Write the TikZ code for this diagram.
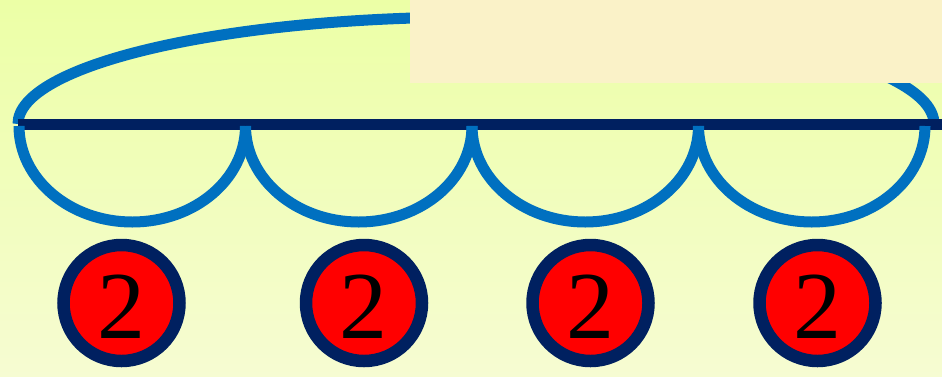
\documentclass[tikz,border=0pt]{standalone}
\usepackage{fontspec}
\setmainfont{Liberation Serif}
\definecolor{bgtop}{HTML}{ECFFA6}
\definecolor{bgbot}{HTML}{F6FCD2}
\definecolor{beige}{HTML}{FAF2C8}
\definecolor{arcblue}{HTML}{0070C0}
\definecolor{navy}{HTML}{002060}
\tikzset{
  arcline/.style={draw=arcblue, line width=11pt, line cap=butt},
  baseline/.style={draw=navy, line width=11pt},
  ball/.style={circle, draw=navy, line width=12.5pt, fill=red, minimum size=116pt, inner sep=0pt},
  digit/.style={anchor=base, inner sep=0pt, font=\fontsize{96}{96}\selectfont, text=black}
}
\begin{document}
\begin{tikzpicture}[x=1pt,y=1pt]
\useasboundingbox (0,0) rectangle (942,-376);
\shade[top color=bgtop, bottom color=bgbot] (0,0) rectangle (942,-376);
% big arc
\coordinate (bigL) at (18,-124);
\draw[arcline] (bigL) arc[start angle=180, end angle=0, x radius=458, y radius=107];
% beige box
\node[fill=beige, inner sep=0pt, anchor=north west, minimum width=532pt, minimum height=83pt] (box) at (410,0) {};
% joints
\coordinate (j0) at (19,-126);
\coordinate (j1) at (245.5,-126);
\coordinate (j2) at (472,-126);
\coordinate (j3) at (698.5,-126);
\coordinate (j4) at (925,-126);
\coordinate (lineL) at (18,-124);
\coordinate (lineR) at (942,-124);
\draw[baseline] (lineL) -- (lineR);
\foreach \j in {j0,j1,j2,j3}{
  \draw[arcline] (\j) arc[start angle=180, end angle=360, x radius=113.25, y radius=96];
}
% balls
\node[ball] (c1) at (121.5,-303) {};
\node[ball] (c2) at (364,-303) {};
\node[ball] (c3) at (590.5,-303) {};
\node[ball] (c4) at (817.5,-303) {};
\node[digit] (t1) at (121,-338) {2};
\node[digit] (t2) at (363.5,-338) {2};
\node[digit] (t3) at (590,-338) {2};
\node[digit] (t4) at (817,-338) {2};
\end{tikzpicture}
\end{document}
